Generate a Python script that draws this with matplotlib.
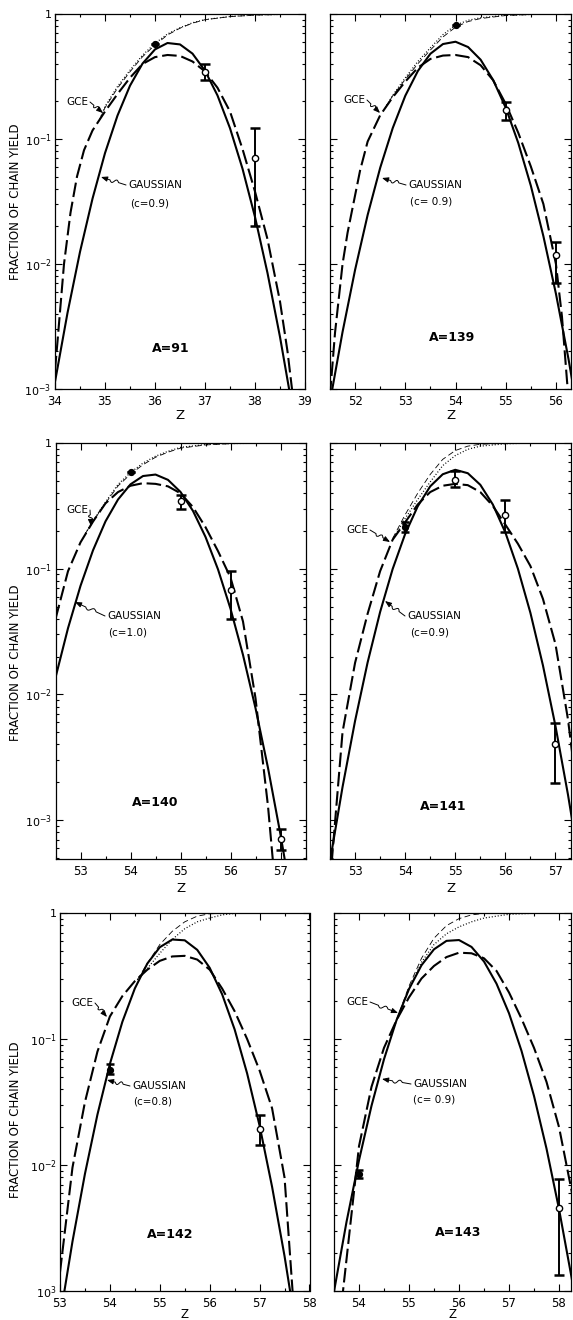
import numpy as np
import matplotlib
matplotlib.use("Agg")
import matplotlib.pyplot as plt
from matplotlib.path import Path
from matplotlib.patches import FancyArrowPatch
from matplotlib.ticker import FixedLocator, FixedFormatter, LogLocator, NullFormatter, MultipleLocator

plt.rcParams['font.family'] = ['DejaVu Sans']
plt.rcParams['mathtext.fontset'] = 'dejavusans'

W, H = 573, 1320

# ---------------- data ----------------
# Panel 1 : A = 91
Z_G1 = [34.0, 34.25, 34.5, 34.75, 35.0, 35.25, 35.5, 35.75, 36.0, 36.25, 36.5, 36.75,
        37.0, 37.25, 37.5, 37.75, 38.0, 38.25, 38.5, 38.75]
GAUSS1 = [1.14e-3, 4.06e-3, 0.0125, 0.0333, 0.0771, 0.154, 0.267, 0.401, 0.521, 0.586, 0.571, 0.482,
          0.352, 0.223, 0.122, 0.0579, 0.0238, 8.47e-3, 2.61e-3, 6.97e-4]
Z_E1 = [34.0, 34.05, 34.18, 34.31, 34.44, 34.58, 34.75, 35.0, 35.25, 35.5, 35.75, 36.0, 36.25, 36.5,
        36.75, 37.0, 37.25, 37.5, 37.75, 38.0, 38.25, 38.5, 38.65, 38.8]
GCE1 = [1.41e-3, 2.4e-3, 0.0100, 0.0257, 0.0501, 0.0813, 0.117, 0.166, 0.229, 0.309, 0.398, 0.452, 0.470, 0.462,
        0.417, 0.347, 0.257, 0.166, 0.0832, 0.0380, 0.0158, 5.01e-3, 2.0e-3, 6.3e-4]
Z_CG1 = [34.9, 35.0, 35.25, 35.5, 35.75, 36.0, 36.25, 36.5, 36.75, 37.0, 37.5, 38.0, 38.5, 39.0]
CUM_G1 = [0.145, 0.182, 0.263, 0.355, 0.468, 0.582, 0.692, 0.776, 0.851, 0.902, 0.955, 0.982, 0.993, 1.0]
Z_CE1 = [34.9, 35.0, 35.25, 35.5, 35.75, 36.0, 36.25, 36.5, 36.75, 37.0, 37.5, 38.0, 39.0]
CUM_E1 = [0.145, 0.178, 0.255, 0.345, 0.455, 0.565, 0.68, 0.77, 0.845, 0.9, 0.953, 0.98, 1.0]
F_Z1, F_Y1, F_LO1, F_HI1 = [36], [0.58], [0.58], [0.58]
O_Z1, O_Y1, O_LO1, O_HI1 = [37, 38], [0.346, 0.070], [0.296, 0.020], [0.40, 0.122]

# Panel 2 : A = 139
Z_G2 = [51.5, 51.75, 52.0, 52.25, 52.5, 52.75, 53.0, 53.25, 53.5, 53.75, 54.0, 54.25, 54.5,
        54.75, 55.0, 55.25, 55.5, 55.75, 56.0, 56.25, 56.5]
GAUSS2 = [7.9e-4, 2.86e-3, 8.99e-3, 0.0247, 0.0589, 0.1225, 0.222, 0.350, 0.481, 0.575, 0.600, 0.544, 0.431,
          0.296, 0.178, 0.0929, 0.0423, 0.0167, 5.78e-3, 1.74e-3, 4.5e-4]
Z_E2 = [51.5, 51.6, 51.75, 51.85, 52.0, 52.1, 52.25, 52.5, 52.75, 53.0, 53.25, 53.5, 53.75, 54.0,
        54.25, 54.5, 54.75, 55.0, 55.25, 55.5, 55.75, 56.0, 56.12, 56.22, 56.3]
GCE2 = [8.9e-4, 2.82e-3, 0.0100, 0.0178, 0.0355, 0.0562, 0.0955, 0.155, 0.216, 0.288, 0.372, 0.437, 0.465, 0.470,
        0.452, 0.389, 0.295, 0.191, 0.112, 0.0603, 0.0302, 0.0100, 3.8e-3, 1.17e-3, 5.0e-4]
Z_CG2 = [52.6, 52.75, 53.0, 53.25, 53.5, 53.75, 54.0, 54.25, 54.5, 55.0, 55.5, 56.3]
CUM_G2 = [0.178, 0.224, 0.309, 0.417, 0.537, 0.684, 0.813, 0.891, 0.933, 0.977, 0.993, 1.0]
Z_CE2 = [52.6, 52.75, 53.0, 53.25, 53.5, 53.75, 54.0, 54.25, 54.5, 55.0, 55.5, 56.3]
CUM_E2 = [0.178, 0.222, 0.300, 0.400, 0.515, 0.655, 0.785, 0.87, 0.92, 0.972, 0.99, 1.0]
F_Z2, F_Y2, F_LO2, F_HI2 = [54], [0.817], [0.817], [0.817]
O_Z2, O_Y2, O_LO2, O_HI2 = [55, 56], [0.171, 0.0118], [0.142, 0.0070], [0.199, 0.0151]

# Panel 3 : A = 140
Z_G3 = [52.5, 52.75, 53.0, 53.25, 53.5, 53.75, 54.0, 54.25, 54.5, 54.75, 55.0, 55.25, 55.5,
        55.75, 56.0, 56.25, 56.5, 56.75, 57.0, 57.25]
GAUSS3 = [0.0136, 0.0336, 0.0730, 0.140, 0.238, 0.355, 0.469, 0.546, 0.561, 0.509, 0.408, 0.288, 0.179,
          0.0988, 0.0480, 0.0206, 7.78e-3, 2.60e-3, 7.66e-4, 2.0e-4]
Z_E3 = [52.5, 52.75, 53.0, 53.25, 53.5, 53.75, 54.0, 54.25, 54.5, 54.75, 55.0, 55.25, 55.5,
        55.75, 56.0, 56.25, 56.5, 56.75, 57.0]
GCE3 = [0.0398, 0.0955, 0.162, 0.237, 0.331, 0.407, 0.457, 0.479, 0.473, 0.452, 0.398, 0.309, 0.214,
        0.138, 0.0851, 0.0380, 9.33e-3, 1.29e-3, 1.0e-4]
Z_CG3 = [53.1, 53.25, 53.5, 53.75, 54.0, 54.25, 54.5, 54.75, 55.0, 55.5, 56.0, 57.5]
CUM_G3 = [0.191, 0.240, 0.339, 0.468, 0.582, 0.692, 0.785, 0.859, 0.923, 0.973, 0.991, 1.0]
Z_CE3 = [53.1, 53.25, 53.5, 53.75, 54.0, 54.25, 54.5, 54.75, 55.0, 55.5, 56.0, 57.5]
CUM_E3 = [0.191, 0.238, 0.332, 0.455, 0.565, 0.672, 0.77, 0.845, 0.91, 0.965, 0.988, 1.0]
F_Z3, F_Y3, F_LO3, F_HI3 = [54], [0.59], [0.59], [0.59]
O_Z3, O_Y3, O_LO3, O_HI3 = [55, 56, 57], [0.343, 0.068, 7.1e-4], [0.30, 0.040, 5.8e-4], [0.387, 0.095, 8.5e-4]

# Panel 4 : A = 141
Z_G4 = [52.5, 52.75, 53.0, 53.25, 53.5, 53.75, 54.0, 54.25, 54.5, 54.75, 55.0, 55.25, 55.5,
        55.75, 56.0, 56.25, 56.5, 56.75, 57.0, 57.25, 57.5]
GAUSS4 = [4.7e-4, 1.83e-3, 6.14e-3, 0.0179, 0.0452, 0.0993, 0.189, 0.313, 0.452, 0.564, 0.612, 0.575, 0.465,
          0.324, 0.194, 0.100, 0.0445, 0.0170, 5.60e-3, 1.59e-3, 3.9e-4]
Z_E4 = [52.5, 52.75, 53.0, 53.25, 53.5, 53.75, 54.0, 54.25, 54.5, 54.75, 55.0, 55.25, 55.5,
        55.75, 56.0, 56.25, 56.5, 56.75, 57.0, 57.25, 57.5]
GCE4 = [3.16e-4, 5.01e-3, 0.0178, 0.0437, 0.0955, 0.170, 0.234, 0.324, 0.407, 0.457, 0.473, 0.462, 0.407,
        0.316, 0.224, 0.158, 0.105, 0.0575, 0.0251, 6.31e-3, 1.0e-3]
Z_CG4 = [53.75, 54.0, 54.25, 54.5, 54.75, 55.0, 55.25, 55.5, 56.0, 56.5, 57.35]
CUM_G4 = [0.170, 0.251, 0.355, 0.490, 0.661, 0.794, 0.891, 0.944, 0.986, 0.998, 1.0]
Z_CE4 = [53.75, 54.0, 54.25, 54.5, 54.75, 55.0, 55.25, 55.5, 56.0, 57.35]
CUM_E4 = [0.174, 0.269, 0.398, 0.562, 0.741, 0.871, 0.944, 0.977, 0.995, 1.0]
F_Z4, F_Y4, F_LO4, F_HI4 = [54], [0.214], [0.195], [0.234]
O_Z4, O_Y4, O_LO4, O_HI4 = [55, 56, 57], [0.51, 0.267, 4.0e-3], [0.447, 0.196, 1.96e-3], [0.60, 0.352, 5.9e-3]

# Panel 5 : A = 142
Z_G5 = [53.0, 53.25, 53.5, 53.75, 54.0, 54.25, 54.5, 54.75, 55.0, 55.25, 55.5, 55.75, 56.0,
        56.25, 56.5, 56.75, 57.0, 57.25, 57.5, 57.75]
GAUSS5 = [6.1e-4, 2.47e-3, 8.51e-3, 0.0251, 0.0634, 0.137, 0.252, 0.397, 0.535, 0.616, 0.607, 0.510, 0.367,
          0.226, 0.119, 0.0533, 0.0205, 6.72e-3, 1.89e-3, 4.5e-4]
Z_E5 = [53.0, 53.25, 53.5, 53.75, 54.0, 54.25, 54.5, 54.75, 55.0, 55.25, 55.5, 55.75, 56.0,
        56.25, 56.5, 56.75, 57.0, 57.25, 57.5, 57.75]
GCE5 = [1.41e-3, 9.55e-3, 0.0316, 0.0794, 0.151, 0.219, 0.288, 0.355, 0.417, 0.452, 0.457, 0.427, 0.355,
        0.251, 0.166, 0.100, 0.0562, 0.0282, 7.94e-3, 3.16e-4]
Z_CG5 = [54.55, 54.75, 55.0, 55.25, 55.5, 55.75, 56.0, 56.25, 56.5, 58.0]
CUM_G5 = [0.295, 0.363, 0.479, 0.617, 0.750, 0.851, 0.912, 0.966, 0.993, 1.0]
Z_CE5 = [54.55, 54.75, 55.0, 55.25, 55.5, 55.75, 56.0, 56.5, 58.0]
CUM_E5 = [0.295, 0.398, 0.562, 0.716, 0.851, 0.944, 0.986, 1.0, 1.0]
F_Z5, F_Y5, F_LO5, F_HI5 = [54], [0.0564], [0.053], [0.063]
O_Z5, O_Y5, O_LO5, O_HI5 = [57], [0.0194], [0.0143], [0.0248]

# Panel 6 : A = 143
Z_G6 = [53.5, 53.75, 54.0, 54.25, 54.5, 54.75, 55.0, 55.25, 55.5, 55.75, 56.0, 56.25, 56.5,
        56.75, 57.0, 57.25, 57.5, 57.75, 58.0, 58.25, 58.5]
GAUSS6 = [9.9e-4, 3.53e-3, 0.0109, 0.0295, 0.0691, 0.141, 0.249, 0.385, 0.515, 0.601, 0.610, 0.538, 0.412,
          0.275, 0.160, 0.0805, 0.0353, 0.0135, 4.48e-3, 1.29e-3, 3.2e-4]
Z_E6 = [53.5, 53.68, 53.75, 54.0, 54.25, 54.5, 54.75, 55.0, 55.25, 55.5, 55.75, 56.0, 56.25, 56.5,
        56.75, 57.0, 57.25, 57.5, 57.75, 58.0, 58.25, 58.5]
GCE6 = [2.0e-4, 1.0e-3, 1.78e-3, 0.0141, 0.0417, 0.0851, 0.141, 0.214, 0.302, 0.380, 0.447, 0.484, 0.479, 0.437,
        0.347, 0.234, 0.145, 0.0851, 0.0457, 0.0200, 6.31e-3, 1.58e-3]
Z_CG6 = [54.75, 55.0, 55.25, 55.5, 55.75, 56.0, 56.25, 56.5, 57.0, 57.5, 58.3]
CUM_G6 = [0.141, 0.251, 0.407, 0.562, 0.684, 0.776, 0.851, 0.912, 0.977, 0.995, 1.0]
Z_CE6 = [54.75, 55.0, 55.25, 55.5, 55.75, 56.0, 56.25, 56.5, 58.3]
CUM_E6 = [0.141, 0.263, 0.437, 0.631, 0.794, 0.902, 0.966, 0.993, 1.0]
F_Z6, F_Y6, F_LO6, F_HI6 = [54], [8.5e-3], [7.9e-3], [9.2e-3]
O_Z6, O_Y6, O_LO6, O_HI6 = [58], [4.57e-3], [1.34e-3], [7.7e-3]

PANEL_LABELS = ["A=91", "A=139", "A=140", "A=141", "A=142", "A=143"]
C_LABELS = ["(c=0.9)", "(c= 0.9)", "(c=1.0)", "(c=0.9)", "(c=0.8)", "(c= 0.9)"]
XTICKS = [[34, 35, 36, 37, 38, 39], [52, 53, 54, 55, 56], [53, 54, 55, 56, 57],
          [53, 54, 55, 56, 57], [53, 54, 55, 56, 57, 58], [54, 55, 56, 57, 58]]
YTICK_LABELS = [["10$^{-3}$", "10$^{-2}$", "10$^{-1}$", "1"],
                None,
                ["10$^{-3}$", "10$^{-2}$", "10$^{-1}$", "1"],
                None,
                ["10$^{3}$", "10$^{-2}$", "10$^{-1}$", "1"],
                None]

# ---------------- layout (pixel boxes: left, top, right, bottom) ----------------
BOXES = [(55, 14, 305, 389), (330, 14, 571, 389),
         (55.5, 443, 305.5, 859), (330, 443, 571, 859),
         (60, 913, 309.5, 1291), (334, 913, 571, 1291)]
XLIMS = [(34, 39), (51.5, 56.3), (52.5, 57.5), (52.5, 57.31), (53, 58), (53.5, 58.24)]
YLIMS = [(1e-3, 1), (1e-3, 1), (4.9e-4, 1), (4.9e-4, 1), (1e-3, 1), (1e-3, 1)]

# annotation positions in pixels: gce text end, gce tip, gauss text start, c text start, gauss tip, A-label centre
ANN = [
    dict(gce=(88, 102), gtip=(103, 113), gau=(128, 185), cc=(130, 203), atip=(101, 177), a=(171, 348)),
    dict(gce=(365, 100), gtip=(380, 113), gau=(408, 185), cc=(410, 202), atip=(382, 178), a=(452, 337)),
    dict(gce=(88, 510), gtip=(91, 526), gau=(107, 616), cc=(108, 633), atip=(75, 602), a=(155, 802)),
    dict(gce=(368, 530), gtip=(390, 542), gau=(407, 616), cc=(410, 633), atip=(385, 601), a=(443, 807)),
    dict(gce=(93, 1003), gtip=(107, 1017), gau=(132, 1086), cc=(133, 1102), atip=(107, 1080), a=(170, 1235)),
    dict(gce=(368, 1002), gtip=(398, 1013), gau=(413, 1084), cc=(413, 1100), atip=(382, 1079), a=(458, 1233)),
]

fig = plt.figure(figsize=(W / 100, H / 100), dpi=100)
fig.patch.set_facecolor('white')


def fx(x):
    return x / W


def fy(y):
    return 1 - y / H


def squiggle(p0, p1, amp=3.0):
    a = np.array(p0, float)
    b = np.array(p1, float)
    d = b - a
    L = np.hypot(*d)
    u = d / L
    n = np.array([-u[1], u[0]])
    q1 = a + 0.30 * d
    q2 = a + 0.64 * d
    c1 = q1 + 0.17 * d + 2.2 * amp * n
    c2 = q2 - 0.17 * d - 2.2 * amp * n
    verts = [a, q1, c1, c2, q2, b]
    verts = [(fx(v[0]), fy(v[1])) for v in verts]
    codes = [Path.MOVETO, Path.LINETO, Path.CURVE4, Path.CURVE4, Path.CURVE4, Path.LINETO]
    arr = FancyArrowPatch(path=Path(verts, codes),
                          arrowstyle='-|>,head_length=0.55,head_width=0.22',
                          mutation_scale=7, lw=0.7, color='k',
                          transform=fig.transFigure)
    fig.add_artist(arr)


panels = [
    (Z_G1, GAUSS1, Z_E1, GCE1, Z_CG1, CUM_G1, Z_CE1, CUM_E1, F_Z1, F_Y1, F_LO1, F_HI1, O_Z1, O_Y1, O_LO1, O_HI1),
    (Z_G2, GAUSS2, Z_E2, GCE2, Z_CG2, CUM_G2, Z_CE2, CUM_E2, F_Z2, F_Y2, F_LO2, F_HI2, O_Z2, O_Y2, O_LO2, O_HI2),
    (Z_G3, GAUSS3, Z_E3, GCE3, Z_CG3, CUM_G3, Z_CE3, CUM_E3, F_Z3, F_Y3, F_LO3, F_HI3, O_Z3, O_Y3, O_LO3, O_HI3),
    (Z_G4, GAUSS4, Z_E4, GCE4, Z_CG4, CUM_G4, Z_CE4, CUM_E4, F_Z4, F_Y4, F_LO4, F_HI4, O_Z4, O_Y4, O_LO4, O_HI4),
    (Z_G5, GAUSS5, Z_E5, GCE5, Z_CG5, CUM_G5, Z_CE5, CUM_E5, F_Z5, F_Y5, F_LO5, F_HI5, O_Z5, O_Y5, O_LO5, O_HI5),
    (Z_G6, GAUSS6, Z_E6, GCE6, Z_CG6, CUM_G6, Z_CE6, CUM_E6, F_Z6, F_Y6, F_LO6, F_HI6, O_Z6, O_Y6, O_LO6, O_HI6),
]

for i, p in enumerate(panels):
    (zg, g, ze, e, zcg, cg, zce, ce, fz, fyv, flo, fhi, oz, oy, olo, ohi) = p
    l, t, r, b = BOXES[i]
    ax = fig.add_axes([fx(l), fy(b), (r - l) / W, (b - t) / H])
    ax.set_yscale('log')
    ax.set_xlim(*XLIMS[i])
    ax.set_ylim(*YLIMS[i])

    ax.plot(zg, g, color='k', lw=1.5, solid_capstyle='round')
    ax.plot(ze, e, color='k', lw=1.5, dashes=(7, 2.3))
    ax.plot(zce, ce, color='k', lw=0.6, dashes=(7, 4))
    ax.plot(zcg, cg, color='k', lw=0.9, dashes=(0.8, 1.6))

    fy_arr = np.array(fyv)
    ax.errorbar(fz, fyv, yerr=[fy_arr - np.array(flo), np.array(fhi) - fy_arr], fmt='none',
                ecolor='k', elinewidth=1.4, capsize=3.0, capthick=1.8)
    ax.plot(fz, fyv, 'o', color='k', ms=4.2, zorder=6)
    oy_arr = np.array(oy)
    ax.errorbar(oz, oy, yerr=[oy_arr - np.array(olo), np.array(ohi) - oy_arr], fmt='none',
                ecolor='k', elinewidth=1.4, capsize=3.5, capthick=1.8, zorder=5)
    ax.plot(oz, oy, 'o', mfc='white', mec='k', mew=1.0, ms=4.5, zorder=6)

    # ticks
    ax.xaxis.set_major_locator(FixedLocator(XTICKS[i]))
    ax.xaxis.set_major_formatter(FixedFormatter([str(v) for v in XTICKS[i]]))
    ax.xaxis.set_minor_locator(MultipleLocator(0.5))
    ax.yaxis.set_major_locator(FixedLocator([1e-3, 1e-2, 1e-1, 1]))
    ax.yaxis.set_minor_locator(LogLocator(base=10, subs=range(2, 10)))
    ax.yaxis.set_minor_formatter(NullFormatter())
    if YTICK_LABELS[i] is not None:
        ax.yaxis.set_major_formatter(FixedFormatter(YTICK_LABELS[i]))
    ax.tick_params(which='both', direction='in', top=True, right=True, width=0.8,
                   colors='k')
    ax.tick_params(axis='x', labelsize=8.5, pad=4)
    ax.tick_params(axis='y', labelsize=8, pad=2.5)
    ax.tick_params(which='major', length=5)
    ax.tick_params(which='minor', length=2.5)
    if YTICK_LABELS[i] is None:
        ax.tick_params(axis='y', labelleft=False)
    for s in ax.spines.values():
        s.set_linewidth(0.9)

    # annotations
    an = ANN[i]
    fig.text(fx(an['gce'][0]), fy(an['gce'][1]), 'GCE', ha='right', va='center', fontsize=7.5)
    squiggle((an['gce'][0] + 2, an['gce'][1]), an['gtip'])
    fig.text(fx(an['gau'][0]), fy(an['gau'][1]), 'GAUSSIAN', ha='left', va='center', fontsize=7.5)
    fig.text(fx(an['cc'][0]), fy(an['cc'][1]), C_LABELS[i], ha='left', va='center', fontsize=7.5)
    squiggle((an['gau'][0] - 2, an['gau'][1]), an['atip'])
    fig.text(fx(an['a'][0]), fy(an['a'][1]), PANEL_LABELS[i], ha='center', va='center',
             fontsize=9, fontweight='bold')

    # Z label
    zy = [415, 415, 889, 889, 1315, 1315][i]
    zs = 9.5 if i < 4 else 8.5
    fig.text(fx((l + r) / 2), fy(zy), 'Z', ha='center', va='center', fontsize=zs)

# y-axis labels
for yc in [202, 663, 1120]:
    fig.text(fx(16), fy(yc), 'FRACTION OF CHAIN YIELD', rotation=90, ha='center', va='center',
             fontsize=8.5)

fig.savefig('out.png', dpi=100, facecolor='white')
